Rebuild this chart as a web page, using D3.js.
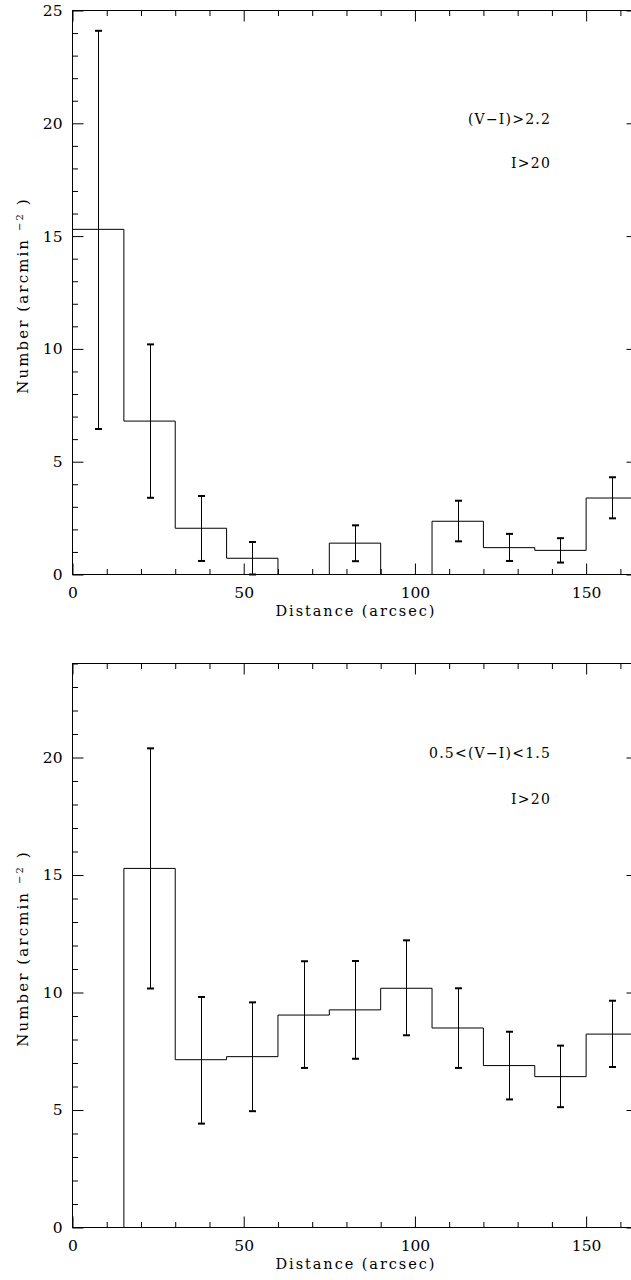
<!DOCTYPE html>
<html><head><meta charset="utf-8">
<script src="https://cdn.jsdelivr.net/npm/d3@7"></script>
<style>
html,body{margin:0;padding:0;background:#fff;}
svg{display:block;}
text{font-family:"DejaVu Serif",serif;fill:#000;}
</style></head><body>
<svg id="chart" width="631" height="1280"></svg>
<script>
// ---- data ----
const binEdges = [0, 15, 30, 45, 60, 75, 90, 105, 120, 135, 150, 165];
const xTickLabels = [0, 50, 100, 150];

const topValues  = [15.3, 6.8, 2.05, 0.72, 0, 1.39, 0, 2.36, 1.19, 1.07, 3.39];
const topErrLow  = [6.45, 3.4, 0.6, 0, null, 0.59, null, 1.47, 0.6, 0.53, 2.49];
const topErrHigh = [24.1, 10.2, 3.48, 1.44, null, 2.18, null, 3.27, 1.8, 1.61, 4.31];
const topYTickLabels = [0, 5, 10, 15, 20, 25];
const topNotes = ["(V−I)>2.2", "I>20"];

const bottomValues  = [0, 15.28, 7.14, 7.27, 9.04, 9.26, 10.18, 8.49, 6.89, 6.42, 8.23];
const bottomErrLow  = [null, 10.17, 4.42, 4.95, 6.79, 7.18, 8.18, 6.79, 5.45, 5.12, 6.83];
const bottomErrHigh = [null, 20.39, 9.81, 9.58, 11.33, 11.34, 12.22, 10.18, 8.33, 7.74, 9.65];
const bottomYTickLabels = [0, 5, 10, 15, 20];
const bottomNotes = ["0.5<(V−I)<1.5", "I>20"];

const xLabel = "Distance (arcsec)";
const yLabelMain = "Number (arcmin ";
const yLabelSup = "−2";
const yLabelEnd = " )";

// ---- layout ----
const svg = d3.select("#chart");
const xLeft = 72.5, xRight = 637.5;
const x = d3.scaleLinear().domain([0, 165]).range([xLeft, xRight]);

const panels = [
  {values: topValues, lo: topErrLow, hi: topErrHigh, yMax: 25, yTicks: topYTickLabels,
   notes: topNotes, yBottom: 574.5, yTop: 10.5, noteY: [124, 168]},
  {values: bottomValues, lo: bottomErrLow, hi: bottomErrHigh, yMax: 24, yTicks: bottomYTickLabels,
   notes: bottomNotes, yBottom: 1227.5, yTop: 663.5, noteY: [758, 804]}
];

const majorLen = 11, minorLen = 5.5;

panels.forEach(p => {
  const y = d3.scaleLinear().domain([0, p.yMax]).range([p.yBottom, p.yTop]);
  const g = svg.append("g");

  const xMinor = d3.range(0, 166, 10).filter(v => v % 50 !== 0);
  const xMajor = d3.range(0, 166, 50);
  const yMinorVals = d3.range(0, p.yMax + 0.001, 1).filter(v => v % 5 !== 0);
  const yMajorVals = d3.range(0, p.yMax + 0.001, 5);

  function styleAxis(sel) {
    sel.select(".domain").remove();
    sel.selectAll(".tick line").attr("stroke", "#000").attr("stroke-width", 1);
    sel.selectAll(".tick text").attr("font-family", "DejaVu Serif, serif").attr("font-size", 15.5).attr("fill", "#000");
  }

  // bottom axis
  g.append("g").attr("transform", `translate(0,${p.yBottom})`)
    .call(d3.axisBottom(x).tickValues(xTickLabels).tickSize(-majorLen).tickPadding(12).tickFormat(d3.format("d")))
    .call(styleAxis);
  g.append("g").attr("transform", `translate(0,${p.yBottom})`)
    .call(d3.axisBottom(x).tickValues(xMinor).tickSize(-minorLen).tickFormat(""))
    .call(styleAxis);
  // top axis
  g.append("g").attr("transform", `translate(0,${p.yTop})`)
    .call(d3.axisTop(x).tickValues(xMajor).tickSize(-majorLen).tickFormat(""))
    .call(styleAxis);
  g.append("g").attr("transform", `translate(0,${p.yTop})`)
    .call(d3.axisTop(x).tickValues(xMinor).tickSize(-minorLen).tickFormat(""))
    .call(styleAxis);
  // left axis
  g.append("g").attr("transform", `translate(${xLeft},0)`)
    .call(d3.axisLeft(y).tickValues(p.yTicks).tickSize(-majorLen).tickPadding(10).tickFormat(d3.format("d")))
    .call(styleAxis);
  g.append("g").attr("transform", `translate(${xLeft},0)`)
    .call(d3.axisLeft(y).tickValues(yMinorVals).tickSize(-minorLen).tickFormat(""))
    .call(styleAxis);
  // right axis
  g.append("g").attr("transform", `translate(${xRight},0)`)
    .call(d3.axisRight(y).tickValues(yMajorVals).tickSize(-majorLen).tickFormat(""))
    .call(styleAxis);
  g.append("g").attr("transform", `translate(${xRight},0)`)
    .call(d3.axisRight(y).tickValues(yMinorVals).tickSize(-minorLen).tickFormat(""))
    .call(styleAxis);

  // frame
  g.append("rect").attr("x", xLeft).attr("y", p.yTop)
    .attr("width", xRight - xLeft).attr("height", p.yBottom - p.yTop)
    .attr("fill", "none").attr("stroke", "#000").attr("stroke-width", 1);

  // histogram
  const pts = [];
  p.values.forEach((v, i) => {
    pts.push([binEdges[i], v]);
    pts.push([binEdges[i + 1], v]);
  });
  const line = d3.line().x(d => x(d[0])).y(d => y(d[1]));
  g.append("path").attr("d", line(pts)).attr("fill", "none")
    .attr("stroke", "#000").attr("stroke-width", 1);

  // error bars
  const capW = 3.5;
  p.values.forEach((v, i) => {
    if (p.lo[i] == null) return;
    const cx = Math.round(x((binEdges[i] + binEdges[i + 1]) / 2)) + 0.5;
    g.append("line").attr("x1", cx).attr("x2", cx)
      .attr("y1", y(p.lo[i])).attr("y2", y(p.hi[i]))
      .attr("stroke", "#000").attr("stroke-width", 1);
    [p.lo[i], p.hi[i]].forEach(e => {
      g.append("line").attr("x1", cx - capW).attr("x2", cx + capW)
        .attr("y1", y(e)).attr("y2", y(e))
        .attr("stroke", "#000").attr("stroke-width", 2);
    });
  });

  // notes
  p.notes.forEach((t, k) => {
    g.append("text").attr("x", 551).attr("y", p.noteY[k])
      .attr("text-anchor", "end").attr("font-size", 14).attr("letter-spacing", 1.2)
      .text(t);
  });

  // x label
  g.append("text").attr("x", (xLeft + xRight) / 2).attr("y", p.yBottom + 41)
    .attr("text-anchor", "middle").attr("font-size", 14.5)
    .attr("textLength", 159).attr("lengthAdjust", "spacing")
    .text(xLabel);

  // y label
  const cy = (p.yTop + p.yBottom) / 2 + 3;
  const yl = g.append("text").attr("transform", `translate(28,${cy}) rotate(-90)`)
    .attr("text-anchor", "middle").attr("font-size", 15).attr("letter-spacing", 2.1);
  yl.append("tspan").text(yLabelMain);
  yl.append("tspan").attr("font-size", 10).attr("dy", -5).text(yLabelSup);
  yl.append("tspan").attr("dy", 5).text(yLabelEnd);
});
</script>
</body></html>
